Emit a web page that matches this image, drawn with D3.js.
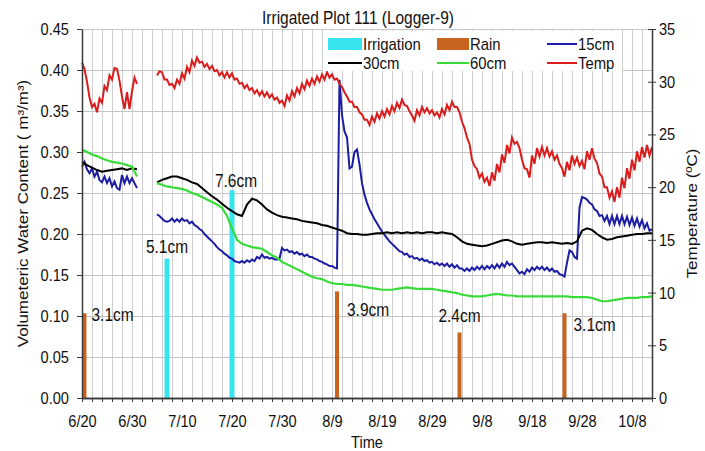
<!DOCTYPE html>
<html>
<head>
<meta charset="utf-8">
<script src="https://cdn.jsdelivr.net/npm/d3@7"></script>
<style>
body{margin:0;background:#fff;}
text{font-family:"Liberation Sans",Arial,sans-serif;fill:#111;}
</style>
</head>
<body>
<svg id="chart" width="705" height="451"></svg>
<script>
// ---- data ----
var startDay = '2011-06-20 00:00';
var endDay = '2011-10-12 00:00';
var tickLabels = ['6/20','6/30','7/10','7/20','7/30','8/9','8/19','8/29','9/8','9/18','9/28','10/8'];

// irrigation and rain events, depth in cm
var irrDates = ['2011-07-07 00:00','2011-07-20 00:00'];
var irrDepth = [5.1, 7.6];
var rainDates = ['2011-06-20 12:00','2011-08-10 00:00','2011-09-03 12:00','2011-09-24 12:00'];
var rainDepth = [3.1, 3.9, 2.4, 3.1];

// air temperature (C), one reading every 12 h from 6/20
var temp = [31.8,31.2,30.0,28.5,27.6,27.9,27.1,28.4,28.0,29.6,29.2,30.6,30.2,31.3,31.2,30.1,28.6,27.4,29.0,27.4,29.1,30.4,29.8,
	null,null,null,null,null,null,null,
	30.6,31.0, 30.9,30.2, 30.2,29.7, 29.8,29.4, 30.2,29.8, 30.8,30.3, 31.4,30.9, 32.0,31.5, 32.3,31.8, 31.9,31.4,
	31.7,31.2, 31.5,31.0, 31.1,30.6, 30.9,30.4, 30.9,30.4, 30.8,30.2, 30.3,29.8, 29.9,29.4, 29.7,29.2, 29.4,28.9,
	29.2,28.7, 29.1,28.6, 29.0,28.5, 28.8,28.3, 28.5,28.0, 28.2,27.7, 28.7,28.2, 29.1,28.6, 29.4,28.9, 29.8,29.3,
	30.1,29.6, 30.3,29.8, 30.5,30.0, 30.7,30.2, 30.9,30.4, 30.7,30.2, 30.3,29.8, 29.5,29.0, 28.6,28.1, 28.1,27.6,
	27.6,27.1, 26.9,26.4, 26.4,25.9, 26.7,26.2, 27.0,26.5, 27.2,26.7, 27.4,26.9, 27.7,27.2, 28.0,27.5, 28.3,27.8,
	27.7,27.2, 26.8,26.3, 27.3,26.8, 27.6,27.1, 27.5,27.0, 27.3,26.8, 27.1,26.6, 27.4,26.9, 27.8,27.3, 28.1,27.6,
	27.6,27.1, 26.2,25.6, 24.7,24.1, 22.6,22.0, 21.7,20.9, 21.3,20.5, 20.9,20.1, 21.4,20.6, 22.2,21.4, 23.1,22.3,
	24.0,23.2, 24.7,24.1, 24.3,23.7, 22.6,21.8, 21.7,20.9, 23.0,22.2, 23.7,22.9, 23.8,23.0, 23.7,22.9, 23.4,22.6,
	23.0,22.2, 21.8,21.0, 22.4,21.6, 23.0,22.2, 22.8,22.0, 22.5,21.7, 23.4,22.6, 23.7,22.7, 22.3,21.3, 21.0,20.0,
	20.0,19.0, 19.6,18.6, 20.0,19.0, 20.9,19.9, 21.8,20.8, 22.6,21.6, 23.4,22.4, 23.8,22.8, 24.0,23.0, 23.8];

// 15 cm water content (m3/m3), every 12 h
var vwc15 = [0.282,0.288,0.279,0.274,0.280,0.270,0.276,0.266,0.263,0.270,0.262,0.268,0.258,0.264,0.256,0.254,0.272,0.262,0.270,0.262,0.268,0.262,0.256,
	null,null,null,null,null,null,null,
	0.224,0.222, 0.219,0.216, 0.215,0.216, 0.219,0.215, 0.218,0.215, 0.219,0.216, 0.217,0.213, 0.215,0.211, 0.209,0.206, 0.204,0.200,
	0.197,0.194, 0.191,0.188, 0.184,0.181, 0.179,0.176, 0.174,0.171, 0.170,0.167, 0.166,0.165, 0.167,0.165, 0.168,0.166, 0.169,0.167,
	0.172,0.170, 0.175,0.171, 0.172,0.170, 0.171,0.169, 0.169,0.170, 0.183,0.180, 0.181,0.178, 0.179,0.176, 0.178,0.175, 0.176,0.173,
	0.175,0.172, 0.172,0.170, 0.169,0.167, 0.166,0.164, 0.163,0.161, 0.161,0.159, 0.158,0.388, 0.345,0.325, 0.318,0.280, 0.282,0.300,
	0.303,0.285, 0.262,0.248, 0.238,0.230, 0.224,0.218, 0.213,0.208, 0.203,0.199, 0.195,0.191, 0.188,0.185, 0.182,0.179, 0.178,0.175,
	0.176,0.172, 0.173,0.170, 0.171,0.168, 0.170,0.167, 0.168,0.165, 0.166,0.163, 0.165,0.162, 0.164,0.161, 0.164,0.160, 0.163,0.159,
	0.162,0.158, 0.158,0.155, 0.158,0.155, 0.159,0.156, 0.160,0.157, 0.161,0.157, 0.161,0.158, 0.162,0.158, 0.163,0.159, 0.164,0.160,
	0.166,0.162, 0.164,0.160, 0.156,0.152, 0.154,0.151, 0.157,0.154, 0.159,0.156, 0.160,0.157, 0.160,0.156, 0.159,0.155, 0.158,0.154,
	0.155,0.151, 0.150,0.148, 0.165,0.180, 0.178,0.172, 0.170,0.232, 0.245,0.244, 0.242,0.238, 0.236,0.230, 0.228,0.222, 0.223,0.216,
	0.222,0.212, 0.222,0.212, 0.222,0.212, 0.222,0.212, 0.221,0.211, 0.220,0.210, 0.219,0.209, 0.217,0.207, 0.213,0.204, 0.206];

// 30 cm and 60 cm water content (m3/m3), daily
var vwc30 = [0.288,0.284,0.281,0.278,0.276,0.277,0.278,0.279,0.280,0.278,0.280,0.279,
	null,null,null,
	0.263,0.266,0.268,0.270,0.270,0.268,0.266,0.263,0.261,0.256,
	0.251,0.246,0.242,0.237,0.232,0.228,0.224,0.222,0.236,0.243,
	0.241,0.236,0.230,0.226,0.223,0.221,0.220,0.219,0.218,0.216,
	0.215,0.214,0.213,0.211,0.210,0.208,0.206,0.204,0.201,0.200,
	0.200,0.199,0.199,0.200,0.201,0.201,0.202,0.201,0.202,0.201,
	0.202,0.201,0.202,0.201,0.202,0.202,0.201,0.202,0.201,0.200,
	0.196,0.191,0.188,0.187,0.186,0.185,0.186,0.188,0.190,0.192,
	0.193,0.191,0.188,0.187,0.188,0.189,0.190,0.190,0.189,0.190,
	0.189,0.188,0.189,0.188,0.191,0.204,0.207,0.205,0.200,0.196,
	0.193,0.194,0.196,0.197,0.198,0.199,0.200,0.200,0.201,0.201];
var vwc60 = [0.303,0.300,0.297,0.295,0.292,0.290,0.288,0.287,0.286,0.284,0.282,0.270,
	null,null,null,
	0.262,0.260,0.258,0.257,0.256,0.255,0.253,0.250,0.248,0.245,
	0.242,0.239,0.236,0.232,0.222,0.207,0.193,0.188,0.186,0.184,
	0.183,0.182,0.178,0.174,0.171,0.166,0.163,0.160,0.157,0.154,
	0.151,0.148,0.146,0.145,0.142,0.140,0.139,0.139,0.138,0.138,
	0.137,0.136,0.135,0.134,0.133,0.132,0.132,0.132,0.133,0.134,
	0.135,0.134,0.133,0.133,0.133,0.133,0.132,0.131,0.130,0.129,
	0.128,0.126,0.125,0.124,0.124,0.124,0.125,0.126,0.127,0.126,
	0.125,0.125,0.124,0.124,0.124,0.124,0.124,0.124,0.124,0.124,
	0.124,0.124,0.124,0.123,0.123,0.123,0.123,0.122,0.120,0.118,
	0.118,0.119,0.120,0.121,0.122,0.122,0.122,0.123,0.123,0.124];

// ---- layout ----
var width = 705, height = 451;
var marginLeft = 82, marginTop = 29;
var plotW = 570, plotH = 369;
var sx = 0.86; // the source image is squeezed horizontally

var cIrr = '#38e4f0', cRain = '#c8641e', c15 = '#1c1ca4', c30 = '#000000', c60 = '#38dc38', cTemp = '#dc1c1c';

var parseT = d3.timeParse('%Y-%m-%d %H:%M');
var t0 = parseT(startDay), t1 = parseT(endDay);

var x = d3.scaleTime().domain([t0, t1]).range([0, plotW]);
var y = d3.scaleLinear().domain([0, 0.45]).range([plotH, 0]);
var yT = d3.scaleLinear().domain([0, 35]).range([plotH, 0]);
var yDepth = d3.scaleLinear().domain([0, 13.5]).range([plotH, 0]); // cm of water, drawn against the left axis

var svg = d3.select('#chart');

function sText(g, px, py, txt, size, anchor, rot, squeeze){
	var k = squeeze || sx;
	return g.append('text')
		.attr('transform', 'translate(' + px + ',' + py + ') scale(' + k + ',1)' + (rot ? ' rotate(' + rot + ')' : ''))
		.attr('text-anchor', anchor)
		.style('font-size', size + 'px')
		.text(txt);
}

var plot = svg.append('g').attr('transform', 'translate(' + marginLeft + ',' + marginTop + ')');

// gridlines
var gridDays = d3.timeDay.range(t0, d3.timeDay.offset(t1, 1), 2);
plot.append('g').selectAll('line').data(gridDays).enter().append('line')
	.attr('x1', function(d){ return x(d) }).attr('x2', function(d){ return x(d) })
	.attr('y1', 0).attr('y2', plotH)
	.attr('stroke', '#cfcfcf').attr('stroke-width', 1).attr('shape-rendering', 'crispEdges');
plot.append('g').selectAll('line').data(y.ticks(9)).enter().append('line')
	.attr('x1', 0).attr('x2', plotW)
	.attr('y1', function(d){ return y(d) }).attr('y2', function(d){ return y(d) })
	.attr('stroke', '#c4c4c4').attr('stroke-width', 1).attr('shape-rendering', 'crispEdges');

// event bars
var irr = irrDates.map(function(d, i){ return {date: parseT(d), cm: irrDepth[i]} });
var rain = rainDates.map(function(d, i){ return {date: parseT(d), cm: rainDepth[i]} });

plot.selectAll('.irr').data(irr).enter().append('rect').attr('class', 'irr')
	.attr('x', function(d){ return x(d.date) - 2.5 }).attr('width', 5)
	.attr('y', function(d){ return yDepth(d.cm) }).attr('height', function(d){ return plotH - yDepth(d.cm) })
	.attr('fill', cIrr);
plot.selectAll('.rain').data(rain).enter().append('rect').attr('class', 'rain')
	.attr('x', function(d){ return x(d.date) - 2 }).attr('width', 4)
	.attr('y', function(d){ return yDepth(d.cm) }).attr('height', function(d){ return plotH - yDepth(d.cm) })
	.attr('fill', cRain);

// label placement next to each bar: [dx, dy, anchor]
var irrLabelPos = [[0, -12, 'middle'], [4, -9, 'middle']];
var rainLabelPos = [[7, 2, 'start'], [10, 19, 'start'], [0, -16, 'middle'], [9, 12, 'start']];
irr.forEach(function(d, i){
	var p = irrLabelPos[i];
	sText(plot, x(d.date) + p[0], yDepth(d.cm) + p[1] + 6, d.cm.toFixed(1) + 'cm', 18, p[2]);
});
rain.forEach(function(d, i){
	var p = rainLabelPos[i];
	sText(plot, x(d.date) + p[0], yDepth(d.cm) + p[1] + 6, d.cm.toFixed(1) + 'cm', 18, p[2]);
});

// lines
function halfDay(arr){ return arr.map(function(v, i){ return [d3.timeHour.offset(t0, 12 * i), v] }) }
function daily(arr){ return arr.map(function(v, i){ return [d3.timeDay.offset(t0, i), v] }) }

var lineL = d3.line().defined(function(d){ return d[1] != null })
	.x(function(d){ return x(d[0]) }).y(function(d){ return y(d[1]) });
var lineR = d3.line().defined(function(d){ return d[1] != null })
	.x(function(d){ return x(d[0]) }).y(function(d){ return yT(d[1]) });

plot.append('path').datum(halfDay(vwc15)).attr('d', lineL).attr('fill', 'none').attr('stroke', c15).attr('stroke-width', 2);
plot.append('path').datum(daily(vwc30)).attr('d', lineL).attr('fill', 'none').attr('stroke', c30).attr('stroke-width', 2);
plot.append('path').datum(daily(vwc60)).attr('d', lineL).attr('fill', 'none').attr('stroke', c60).attr('stroke-width', 2.2);
plot.append('path').datum(halfDay(temp)).attr('d', lineR).attr('fill', 'none').attr('stroke', cTemp).attr('stroke-width', 2);

// axes
var parseTick = d3.timeParse('%Y/%m/%d');
var tickDates = tickLabels.map(function(s){ return parseTick('2011/' + s) });

var gx = plot.append('g').attr('transform', 'translate(0,' + plotH + ')')
	.call(d3.axisBottom(x).tickValues(gridDays).tickFormat('').tickSize(4).tickSizeOuter(0));
gx.append('g').call(d3.axisBottom(x).tickValues(tickDates).tickFormat(function(d, i){ return tickLabels[i] }).tickSize(4).tickSizeOuter(0));
gx.selectAll('text').attr('y', 17).attr('transform', 'scale(' + sx + ',1)').style('font-size', '17px');

var gy = plot.append('g').call(d3.axisLeft(y).ticks(9).tickFormat(d3.format('.2f')).tickSize(5).tickSizeOuter(0));
gy.selectAll('text').attr('x', -13 / sx).attr('transform', 'scale(' + sx + ',1)').style('font-size', '17px');

var gr = plot.append('g').attr('transform', 'translate(' + plotW + ',0)')
	.call(d3.axisRight(yT).ticks(7).tickSize(4).tickSizeOuter(0));
gr.selectAll('.tick line').attr('x1', -4);
gr.selectAll('text').attr('x', 7 / sx).attr('transform', 'scale(' + sx + ',1)').style('font-size', '17px');

plot.selectAll('.domain').attr('stroke', '#3a3a3a').attr('stroke-width', 1.5);
plot.selectAll('.tick line').attr('stroke', '#3a3a3a');
plot.selectAll('.tick text').attr('fill', '#111').style('font-family', '"Liberation Sans",Arial,sans-serif');

// titles
sText(svg, 358, 24, 'Irrigated Plot 111 (Logger-9)', 18, 'middle');
sText(svg, 367, 448, 'Time', 17, 'middle');
sText(svg, 28, marginTop + plotH / 2, 'Volumeteric Water Content ( m³/m³)', 17, 'middle', -90);
sText(svg, 697, marginTop + plotH / 2, 'Temperature (ºC)', 17, 'middle', -90);

// legend
var legend = svg.append('g');
legend.append('rect').attr('x', 323).attr('y', 31).attr('width', 299).attr('height', 40).attr('fill', '#fff');
var legendItems = [
	{name: 'Irrigation', kind: 'box', color: cIrr, col: 0, row: 0},
	{name: 'Rain', kind: 'box', color: cRain, col: 1, row: 0},
	{name: '15cm', kind: 'line', color: c15, col: 2, row: 0},
	{name: '30cm', kind: 'line', color: c30, col: 0, row: 1},
	{name: '60cm', kind: 'line', color: c60, col: 1, row: 1},
	{name: 'Temp', kind: 'line', color: cTemp, col: 2, row: 1}
];
var colX = [[328, 362], [437, 469], [547, 577]];
var rowY = [44, 63];
legendItems.forEach(function(it){
	var x0 = colX[it.col][0], x1 = colX[it.col][1], yy = rowY[it.row];
	if (it.kind == 'box') {
		legend.append('rect').attr('x', x0).attr('y', yy - 6).attr('width', x1 - x0).attr('height', 12).attr('fill', it.color);
	} else {
		legend.append('line').attr('x1', x0).attr('x2', x1).attr('y1', yy).attr('y2', yy)
			.attr('stroke', it.color).attr('stroke-width', 2);
	}
	sText(legend, x1 + 1, yy + 6, it.name, 16, 'start', 0, 0.93);
});
</script>
</body>
</html>
